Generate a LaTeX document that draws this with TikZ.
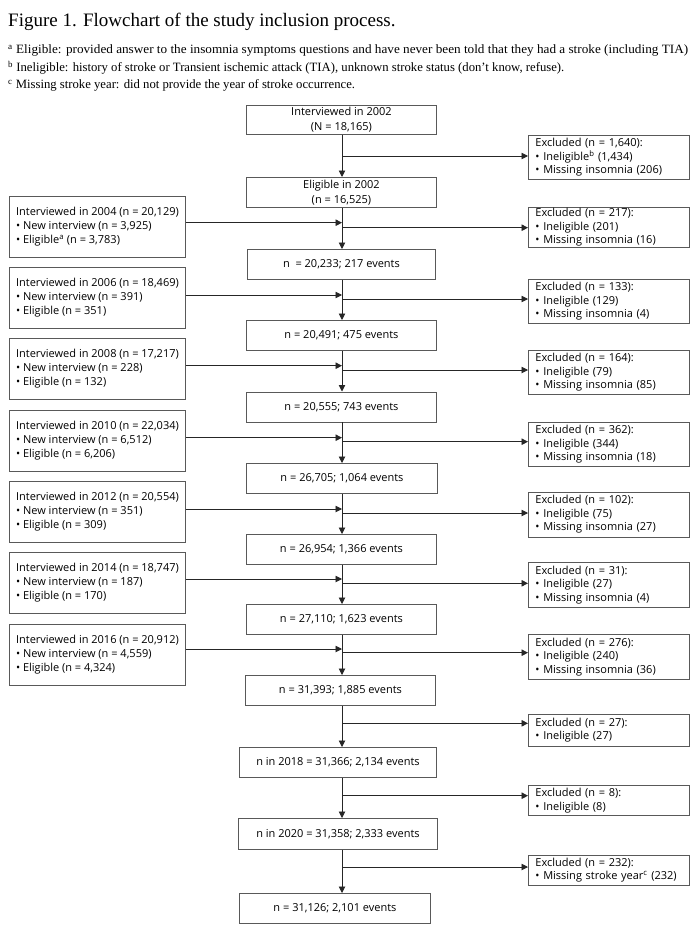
\documentclass[tikz,border=0pt]{standalone}
\usepackage{fontspec}
\setmainfont{Liberation Serif}
\newfontfamily\osans{Open Sans}
\usetikzlibrary{arrows.meta}
\begin{document}
\begin{tikzpicture}[x=1pt,y=-1pt,
  box/.style={draw=black!65, line width=0.9pt, inner sep=0pt, anchor=north west, font=\osans\fontsize{11}{14}\selectfont},
  mainbox/.style={box, align=center, font=\osans\fontsize{11}{15}\selectfont},
  leftbox/.style={box, align=left, minimum width=176pt, minimum height=61pt},
  exbox/.style={box, align=left, text width=147pt, inner xsep=7pt, minimum width=161pt, font=\osans\fontsize{11}{13.5}\selectfont},
  conn/.style={draw=black!85, line width=0.9pt},
  arr/.style={conn, -{Triangle[length=6.5pt,width=6.5pt]}},
  titletext/.style={anchor=base west, inner sep=0pt, font=\fontsize{19}{22}\selectfont},
  notetext/.style={anchor=base west, inner sep=0pt, font=\fontsize{12.7}{15}\selectfont},
]
\useasboundingbox (0,0) rectangle (696,931);

% title and notes
\node[titletext] (title) at (8,27) {Figure 1. Flowchart of the study inclusion process.};
\node[notetext] (na) at (8,54) {\scalebox{1.04}[1]{\textsuperscript{a} Eligible: provided answer to the insomnia symptoms questions and have never been told that they had a stroke (including TIA)}};
\node[notetext] (nb) at (8,71.5) {\textsuperscript{b} Ineligible: history of stroke or Transient ischemic attack (TIA), unknown stroke status (don’t know, refuse).};
\node[notetext] (nc) at (8,89) {\textsuperscript{c} Missing stroke year: did not provide the year of stroke occurrence.};

% main column
\coordinate (X) at (342,0);
\node[mainbox, minimum width=190pt, minimum height=29pt] (b1) at (246,105) {Interviewed in 2002\\(N = 18,165)};
\node[mainbox, minimum width=190pt, minimum height=30pt] (b2) at (246,177) {Eligible in 2002\\(n = 16,525)};
\node[mainbox, minimum width=188pt, minimum height=30pt] (b3) at (247,249) {n\ \ = 20,233; 217 events};
\node[mainbox, minimum width=190pt, minimum height=30pt] (b4) at (246,320) {n = 20,491; 475 events};
\node[mainbox, minimum width=190pt, minimum height=30pt] (b5) at (246,391.5) {n = 20,555; 743 events};
\node[mainbox, minimum width=191pt, minimum height=30pt] (b6) at (246,463) {n = 26,705; 1,064 events};
\node[mainbox, minimum width=190pt, minimum height=30pt] (b7) at (246,534) {n = 26,954; 1,366 events};
\node[mainbox, minimum width=190pt, minimum height=30pt] (b8) at (246,604) {n = 27,110; 1,623 events};
\node[mainbox, minimum width=190pt, minimum height=30pt] (b9) at (245,675) {n = 31,393; 1,885 events};
\node[mainbox, minimum width=197pt, minimum height=30pt] (b10) at (239,747) {n in 2018 = 31,366; 2,134 events};
\node[mainbox, minimum width=199pt, minimum height=31pt] (b11) at (238,818) {n in 2020 = 31,358; 2,333 events};
\node[mainbox, minimum width=191pt, minimum height=30pt] (b12) at (239,893) {n = 31,126; 2,101 events};

% left column
\node[leftbox] (a2) at (9,196) {Interviewed in 2004 (n = 20,129)\\• New interview (n = 3,925)\\• Eligible\textsuperscript{a} (n = 3,783)};
\node[leftbox] (a3) at (9,267) {Interviewed in 2006 (n = 18,469)\\• New interview (n = 391)\\• Eligible (n = 351)};
\node[leftbox] (a4) at (9,338) {Interviewed in 2008 (n = 17,217)\\• New interview (n = 228)\\• Eligible (n = 132)};
\node[leftbox] (a5) at (9,409.5) {Interviewed in 2010 (n = 22,034)\\• New interview (n = 6,512)\\• Eligible (n = 6,206)};
\node[leftbox] (a6) at (9,481) {Interviewed in 2012 (n = 20,554)\\• New interview (n = 351)\\• Eligible (n = 309)};
\node[leftbox] (a7) at (9,552) {Interviewed in 2014 (n = 18,747)\\• New interview (n = 187)\\• Eligible (n = 170)};
\node[leftbox] (a8) at (9,623.5) {Interviewed in 2016 (n = 20,912)\\• New interview (n = 4,559)\\• Eligible (n = 4,324)};

% right column
\node[exbox, minimum height=44pt] (e1) at (528,135) {Excluded (n = 1,640):\\• Ineligible\textsuperscript{b} (1,434)\\• Missing insomnia (206)};
\node[exbox, minimum height=40.5pt] (e2) at (528,206.5) {Excluded (n = 217):\\• Ineligible (201)\\• Missing insomnia (16)};
\node[exbox, minimum height=44pt] (e3) at (528,279) {Excluded (n = 133):\\• Ineligible (129)\\• Missing insomnia (4)};
\node[exbox, minimum height=44pt] (e4) at (528,350) {Excluded (n = 164):\\• Ineligible (79)\\• Missing insomnia (85)};
\node[exbox, minimum height=44pt] (e5) at (528,422) {Excluded (n = 362):\\• Ineligible (344)\\• Missing insomnia (18)};
\node[exbox, minimum height=45pt] (e6) at (528,491.5) {Excluded (n = 102):\\• Ineligible (75)\\• Missing insomnia (27)};
\node[exbox, minimum height=45pt] (e7) at (528,562) {Excluded (n = 31):\\• Ineligible (27)\\• Missing insomnia (4)};
\node[exbox, minimum height=45pt] (e8) at (528,634) {Excluded (n = 276):\\• Ineligible (240)\\• Missing insomnia (36)};
\node[exbox, minimum height=32pt] (e9) at (528,713.5) {Excluded (n = 27):\\• Ineligible (27)};
\node[exbox, minimum height=30pt] (e10) at (528,785) {Excluded (n = 8):\\• Ineligible (8)};
\node[exbox, minimum height=30pt] (e11) at (528,854.5) {Excluded (n = 232):\\• Missing stroke year\textsuperscript{c} (232)};

% vertical flow
\foreach \p/\n in {b1/b2,b2/b3,b3/b4,b4/b5,b5/b6,b6/b7,b7/b8,b8/b9,b9/b10,b10/b11,b11/b12}
  \draw[arr] (\p.south -| X) -- (\n.north -| X);

% branch points to excluded boxes
\foreach \i/\y in {1/156,2/227.7,3/299,4/370,5/441.7,6/513,7/583.3,8/652.7,9/723.3,10/795.7,11/867}
  \coordinate (r\i) at (342,\y);
\foreach \i in {1,...,11}
  \draw[arr] (r\i) -- (r\i -| e\i.west);

% incoming arrows from interview boxes
\foreach \i/\y in {2/222.7,3/295,4/365.7,5/437.7,6/509,7/579,8/649}
  \coordinate (l\i) at (342,\y);
\foreach \i in {2,...,8}
  \draw[arr] (l\i -| a\i.east) -- (l\i);
\end{tikzpicture}
\end{document}
